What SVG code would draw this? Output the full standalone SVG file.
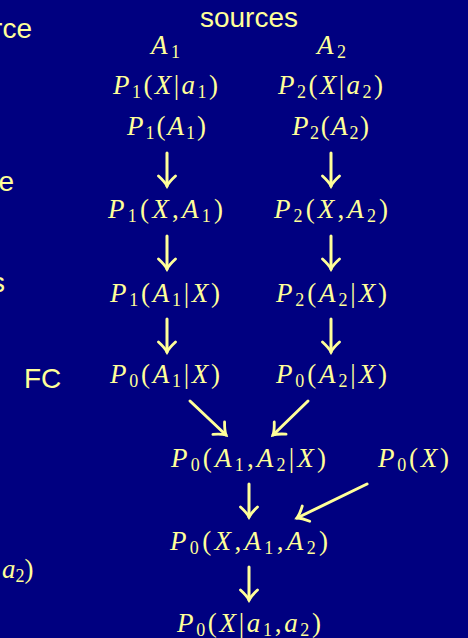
<svg xmlns="http://www.w3.org/2000/svg" width="468" height="638" viewBox="0 0 468 638">
<style>
.m{font-family:"Liberation Serif","DejaVu Serif",serif;font-size:27px;fill:#FFFF99}
.i{font-style:italic}
.s{font-size:18px}
.t{font-family:"Liberation Sans",Arial,sans-serif;font-size:28px;fill:#FFFF99}
.a{stroke:#FFFF99;stroke-width:3;fill:none;stroke-linecap:round;marker-end:url(#h)}
</style>
<defs>
<marker id="h" markerUnits="userSpaceOnUse" viewBox="-12 -11 15 22" refX="0" refY="0" markerWidth="15" markerHeight="22" orient="auto">
<path d="M-10,-8.5 Q-4,-2 0,0 Q-4,2 -10,8.5" fill="none" stroke="#FFFF99" stroke-width="2.8" stroke-linecap="round"/>
</marker>
</defs>
<rect width="468" height="638" fill="#000080"/>
<g id="labels">
<text class="t" x="249" y="27" text-anchor="middle">sources</text>
<text class="t" x="32" y="38" text-anchor="end">rce</text>
<text class="t" x="14" y="191" text-anchor="end">e</text>
<text class="t" x="5" y="292" text-anchor="end">s</text>
<text class="t" x="24" y="388">FC</text>
<text class="m" x="2" y="578"><tspan class="i">a</tspan><tspan class="s" dy="4">2</tspan><tspan dy="-4">)</tspan></text>
</g>
<g id="A1"><text class="m" x="151" y="54" textLength="29" lengthAdjust="spacing"><tspan class="i">A</tspan><tspan class="s" dy="4">1</tspan></text></g>
<g id="A2"><text class="m" x="317" y="54" textLength="29" lengthAdjust="spacing"><tspan class="i">A</tspan><tspan class="s" dy="4">2</tspan></text></g>
<g id="P1Xa1"><text class="m" x="113" y="94" textLength="105" lengthAdjust="spacing"><tspan class="i">P</tspan><tspan class="s" dy="4">1</tspan><tspan dy="-4">(</tspan><tspan class="i">X</tspan>|<tspan class="i">a</tspan><tspan class="s" dy="4">1</tspan><tspan dy="-4">)</tspan></text></g>
<g id="P2Xa2"><text class="m" x="278" y="94" textLength="105" lengthAdjust="spacing"><tspan class="i">P</tspan><tspan class="s" dy="4">2</tspan><tspan dy="-4">(</tspan><tspan class="i">X</tspan>|<tspan class="i">a</tspan><tspan class="s" dy="4">2</tspan><tspan dy="-4">)</tspan></text></g>
<g id="P1A1"><text class="m" x="127" y="135" textLength="79" lengthAdjust="spacing"><tspan class="i">P</tspan><tspan class="s" dy="4">1</tspan><tspan dy="-4">(</tspan><tspan class="i">A</tspan><tspan class="s" dy="4">1</tspan><tspan dy="-4">)</tspan></text></g>
<g id="P2A2"><text class="m" x="292" y="135" textLength="77" lengthAdjust="spacing"><tspan class="i">P</tspan><tspan class="s" dy="4">2</tspan><tspan dy="-4">(</tspan><tspan class="i">A</tspan><tspan class="s" dy="4">2</tspan><tspan dy="-4">)</tspan></text></g>
<g id="P1XA1"><text class="m" x="108" y="218" textLength="115" lengthAdjust="spacing"><tspan class="i">P</tspan><tspan class="s" dy="4">1</tspan><tspan dy="-4">(</tspan><tspan class="i">X</tspan>,<tspan class="i">A</tspan><tspan class="s" dy="4">1</tspan><tspan dy="-4">)</tspan></text></g>
<g id="P2XA2"><text class="m" x="274" y="218" textLength="114" lengthAdjust="spacing"><tspan class="i">P</tspan><tspan class="s" dy="4">2</tspan><tspan dy="-4">(</tspan><tspan class="i">X</tspan>,<tspan class="i">A</tspan><tspan class="s" dy="4">2</tspan><tspan dy="-4">)</tspan></text></g>
<g id="P1A1X"><text class="m" x="110" y="302" textLength="110" lengthAdjust="spacing"><tspan class="i">P</tspan><tspan class="s" dy="4">1</tspan><tspan dy="-4">(</tspan><tspan class="i">A</tspan><tspan class="s" dy="4">1</tspan><tspan dy="-4">|</tspan><tspan class="i">X</tspan>)</text></g>
<g id="P2A2X"><text class="m" x="276" y="302" textLength="111" lengthAdjust="spacing"><tspan class="i">P</tspan><tspan class="s" dy="4">2</tspan><tspan dy="-4">(</tspan><tspan class="i">A</tspan><tspan class="s" dy="4">2</tspan><tspan dy="-4">|</tspan><tspan class="i">X</tspan>)</text></g>
<g id="P0A1X"><text class="m" x="110" y="383" textLength="110" lengthAdjust="spacing"><tspan class="i">P</tspan><tspan class="s" dy="4">0</tspan><tspan dy="-4">(</tspan><tspan class="i">A</tspan><tspan class="s" dy="4">1</tspan><tspan dy="-4">|</tspan><tspan class="i">X</tspan>)</text></g>
<g id="P0A2X"><text class="m" x="276" y="383" textLength="111" lengthAdjust="spacing"><tspan class="i">P</tspan><tspan class="s" dy="4">0</tspan><tspan dy="-4">(</tspan><tspan class="i">A</tspan><tspan class="s" dy="4">2</tspan><tspan dy="-4">|</tspan><tspan class="i">X</tspan>)</text></g>
<g id="P0A1A2X"><text class="m" x="171" y="467" textLength="155" lengthAdjust="spacing"><tspan class="i">P</tspan><tspan class="s" dy="4">0</tspan><tspan dy="-4">(</tspan><tspan class="i">A</tspan><tspan class="s" dy="4">1</tspan><tspan dy="-4">,</tspan><tspan class="i">A</tspan><tspan class="s" dy="4">2</tspan><tspan dy="-4">|</tspan><tspan class="i">X</tspan>)</text></g>
<g id="P0X"><text class="m" x="378" y="467" textLength="71" lengthAdjust="spacing"><tspan class="i">P</tspan><tspan class="s" dy="4">0</tspan><tspan dy="-4">(</tspan><tspan class="i">X</tspan>)</text></g>
<g id="P0XA1A2"><text class="m" x="170" y="550" textLength="158" lengthAdjust="spacing"><tspan class="i">P</tspan><tspan class="s" dy="4">0</tspan><tspan dy="-4">(</tspan><tspan class="i">X</tspan>,<tspan class="i">A</tspan><tspan class="s" dy="4">1</tspan><tspan dy="-4">,</tspan><tspan class="i">A</tspan><tspan class="s" dy="4">2</tspan><tspan dy="-4">)</tspan></text></g>
<g id="P0Xa1a2"><text class="m" x="177" y="632" textLength="144" lengthAdjust="spacing"><tspan class="i">P</tspan><tspan class="s" dy="4">0</tspan><tspan dy="-4">(</tspan><tspan class="i">X</tspan>|<tspan class="i">a</tspan><tspan class="s" dy="4">1</tspan><tspan dy="-4">,</tspan><tspan class="i">a</tspan><tspan class="s" dy="4">2</tspan><tspan dy="-4">)</tspan></text></g>
<g id="connectors">
<path class="a" d="M167,153V186"/>
<path class="a" d="M331,153V186"/>
<path class="a" d="M167,236V269"/>
<path class="a" d="M331,236V269"/>
<path class="a" d="M167,319V352"/>
<path class="a" d="M331,319V352"/>
<path class="a" d="M190,401L226,435"/>
<path class="a" d="M308,401L273,435"/>
<path class="a" d="M249,484V517"/>
<path class="a" d="M367,484L297,518"/>
<path class="a" d="M249,567V600"/>
</g>
</svg>
